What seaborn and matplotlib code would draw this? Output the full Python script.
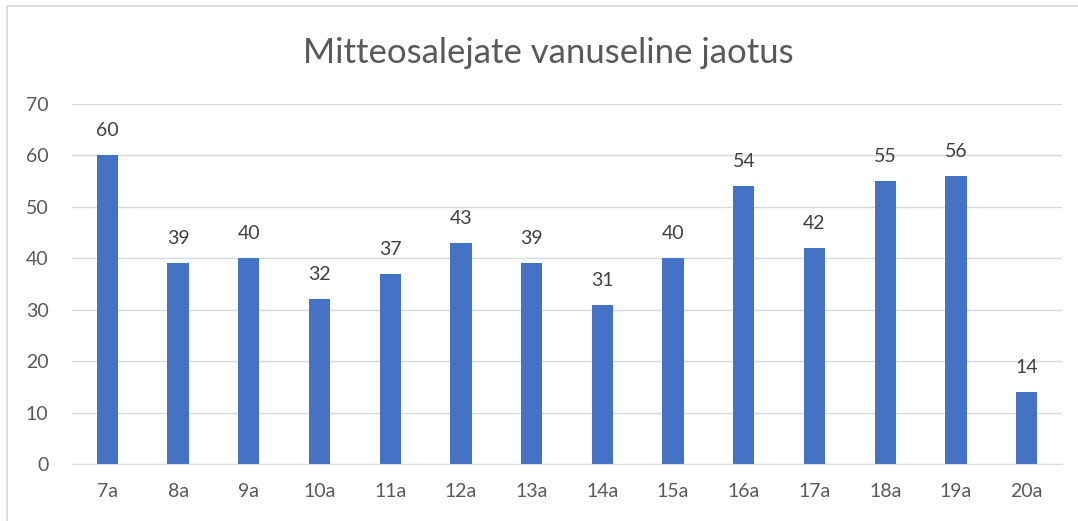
import matplotlib
matplotlib.use("Agg")
import matplotlib.pyplot as plt
from matplotlib.lines import Line2D
import pandas as pd
import seaborn as sns

classes = ["7a", "8a", "9a", "10a", "11a", "12a", "13a", "14a", "15a", "16a", "17a", "18a", "19a", "20a"]
counts = [60, 39, 40, 32, 37, 43, 39, 31, 40, 54, 42, 55, 56, 14]

df = pd.DataFrame({"klass": classes, "arv": counts})

sns.set_style("white")
plt.rcParams["font.family"] = ["Lato", "DejaVu Sans"]

W, H = 1078, 521
fig = plt.figure(figsize=(W / 100, H / 100), dpi=100)
ax = fig.add_axes([72 / W, 1 - 464 / H, (1062 - 72) / W, 360 / H])

sns.barplot(data=df, x="klass", y="arv", color="#4472C4", width=0.3,
            saturation=1, linewidth=0, ax=ax)

ax.set_ylim(0, 70)
ax.set_yticks(range(0, 71, 10))
ax.yaxis.grid(True, color="#D9D9D9", linewidth=1)
ax.set_axisbelow(True)
for s in ["top", "right", "left"]:
    ax.spines[s].set_visible(False)
ax.spines["bottom"].set_color("#D9D9D9")
ax.tick_params(axis="y", length=0, labelsize=14, colors="#595959", pad=17)
ax.tick_params(axis="x", length=0, labelsize=14, colors="#595959", pad=14)
ax.set_xlabel("")
ax.set_ylabel("")

for i, v in enumerate(counts):
    ax.text(i, v + 3.7, str(v), ha="center", va="baseline", fontsize=14, color="#404040")

fig.text(548 / W, 1 - 63 / H, "Mitteosalejate vanuseline jaotus", ha="center", va="baseline",
         fontsize=25, color="#595959")

# chart frame, cropped on the right and bottom
fig.add_artist(Line2D([7 / W, 1], [1 - 6 / H, 1 - 6 / H], color="#D9D9D9", linewidth=1.2))
fig.add_artist(Line2D([7 / W, 7 / W], [0, 1 - 6 / H], color="#D9D9D9", linewidth=1.2))

fig.savefig("out.png", dpi=100)
